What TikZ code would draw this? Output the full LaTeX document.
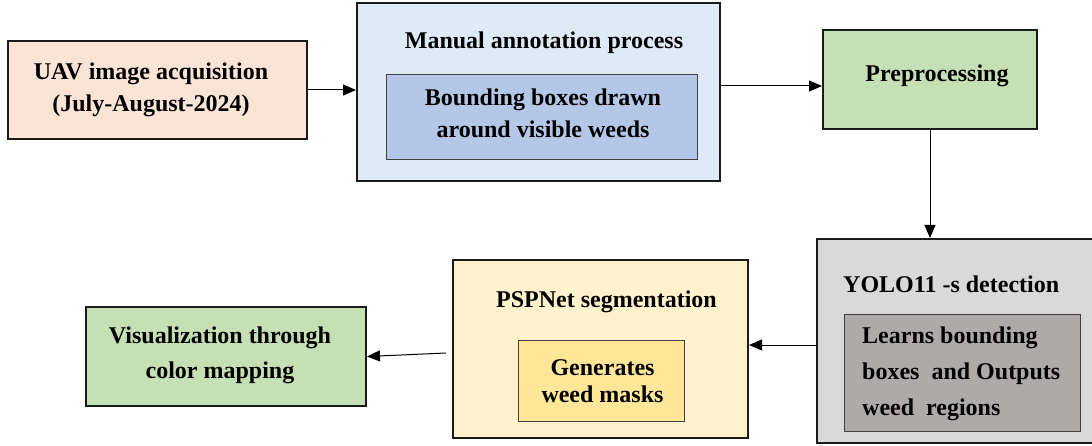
\documentclass[tikz,border=0pt]{standalone}
\usepackage{fontspec}
\setmainfont{Liberation Serif}
\usetikzlibrary{arrows.meta}
\definecolor{cpeach}{HTML}{FBE4D5}
\definecolor{cblue}{HTML}{DEEBF7}
\definecolor{cblueb}{HTML}{B4C7E7}
\definecolor{cgreen}{HTML}{C5E0B4}
\definecolor{cgray}{HTML}{D9D9D9}
\definecolor{cgrayb}{HTML}{AEAAAA}
\definecolor{cyel}{HTML}{FFF2CC}
\definecolor{cyelb}{HTML}{FFE699}
\definecolor{cborder}{HTML}{1A1A1A}
\tikzset{
  outer/.style={draw=cborder, line width=2pt, inner sep=0pt},
  innerbox/.style={draw=black!75, line width=1pt, inner sep=0pt},
  lbl/.style={font=\bfseries\fontsize{24}{32}\selectfont, align=center, inner sep=0pt},
  arr/.style={draw=black, line width=1pt, -{Triangle[length=13pt,width=11pt]}},
}
\begin{document}
\begin{tikzpicture}[x=1pt,y=-1pt]
\useasboundingbox (0,0) rectangle (1092,446);
% UAV
\node[outer, fill=cpeach, minimum width=299pt, minimum height=98pt] (uav) at (157.5,90) {};
\node[lbl] (uavt) at (151,90) {UAV image acquisition\\(July-August-2024)};
% Manual
\node[outer, fill=cblue, minimum width=363pt, minimum height=178pt] (manual) at (538.5,92) {};
\node[lbl] (manualt) at (544,43) {Manual annotation process};
\node[innerbox, fill=cblueb, minimum width=311pt, minimum height=85pt] (manualin) at (541.5,117.5) {};
\node[lbl] (manualint) at (543,113) {Bounding boxes drawn\\around visible weeds};
% Preprocessing
\node[outer, fill=cgreen, minimum width=214pt, minimum height=99pt] (prep) at (930,79.5) {};
\node[lbl] (prept) at (937,76) {Preprocessing};
% YOLO
\node[outer, fill=cgray, minimum width=290pt, minimum height=204pt] (yolo) at (962,341) {};
\node[lbl, anchor=west] (yolot) at (843,284) {YOLO11 -s detection};
\node[innerbox, fill=cgrayb, minimum width=236pt, minimum height=117pt] (yoloin) at (962,372.5) {};
\node[lbl, anchor=west, align=left, font=\bfseries\fontsize{24}{36}\selectfont] (yoloint) at (862,374) {Learns bounding\\boxes\ \ and Outputs\\weed\ \ regions};
% PSPNet
\node[outer, fill=cyel, minimum width=295pt, minimum height=178pt] (psp) at (600.5,349) {};
\node[lbl] (pspt) at (606.5,302) {PSPNet segmentation};
\node[innerbox, fill=cyelb, minimum width=166pt, minimum height=81pt] (pspin) at (601,380.5) {};
\node[lbl, font=\bfseries\fontsize{24}{27}\selectfont] (pspint) at (602.5,381) {Generates\\weed masks};
% Visualization
\node[outer, fill=cgreen, minimum width=280pt, minimum height=99pt] (vis) at (226,356.5) {};
\node[lbl, font=\bfseries\fontsize{24}{35}\selectfont] (vist) at (220,355) {Visualization through\\color mapping};
% arrows
\draw[arr] (uav.east) -- (uav.east -| manual.west);
\draw[arr] ([yshift=6pt]manual.east) -- ([yshift=6pt]manual.east -| prep.west);
\draw[arr] (prep.south) -- (prep.south |- yolo.north);
\draw[arr] ([yshift=-4pt]yolo.west) -- ([yshift=-4pt]yolo.west -| psp.east);
\coordinate (pspout) at ([xshift=-6pt,yshift=-4pt]psp.west);
\draw[arr] (pspout) -- (vis.east);
\end{tikzpicture}
\end{document}
